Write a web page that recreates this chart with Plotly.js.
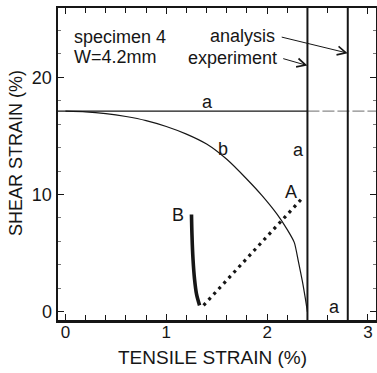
<!DOCTYPE html>
<html>
<head>
<meta charset="utf-8">
<script src="https://cdn.plot.ly/plotly-3.0.1.min.js"></script>
<style>
  html, body { margin: 0; padding: 0; background: #fff; }
  #chart { width: 377px; height: 373px; }
</style>
</head>
<body>
<div id="chart"></div>
<script>
// Constant shear-strain limit "a" (horizontal) and tensile limits (vertical)
const limitShear = 17.1;
const limitTensileExperiment = 2.40;
const limitTensileAnalysis = 2.80;

// Limit curve "b"
const curveBX = [0, 0.2, 0.4, 0.6, 0.8, 1.0, 1.2, 1.4, 1.6, 1.8, 1.95, 2.1, 2.2, 2.27, 2.31, 2.35, 2.38, 2.40];
const curveBY = [17.1, 17.05, 16.9, 16.65, 16.3, 15.8, 15.15, 14.3, 13.0, 11.3, 9.9, 8.3, 7.0, 5.9, 4.3, 2.6, 1.1, 0];

// Loading path A (dotted) and path B (thick)
const pathAX = [1.37, 2.34];
const pathAY = [0.55, 9.6];
const pathBX = [1.25, 1.255, 1.265, 1.28, 1.30, 1.33];
const pathBY = [8.3, 6.5, 4.5, 2.8, 1.5, 0.55];

// Axis ticks
const xTickVals = [0, 1, 2, 3];
const xTickText = ['0', '1', '2', '3'];
const yTickVals = [0, 10, 20];
const yTickText = ['0', '10', '20'];

const ink = '#161616';
const fontFamily = '"Liberation Sans", Arial, Helvetica, sans-serif';

const traces = [
  { x: [-0.2, limitTensileExperiment], y: [limitShear, limitShear], mode: 'lines',
    line: { color: ink, width: 1.3 }, hoverinfo: 'skip' },
  { x: [limitTensileExperiment, 3.2], y: [limitShear, limitShear], mode: 'lines',
    line: { color: '#8a8a8a', width: 1.3, dash: '12px,3px' }, hoverinfo: 'skip' },
  { x: [limitTensileExperiment, limitTensileExperiment], y: [-2, 30], mode: 'lines',
    line: { color: ink, width: 2 }, hoverinfo: 'skip' },
  { x: [limitTensileAnalysis, limitTensileAnalysis], y: [-2, 30], mode: 'lines',
    line: { color: ink, width: 2 }, hoverinfo: 'skip' },
  { x: curveBX, y: curveBY, mode: 'lines', line: { color: ink, width: 1.2, shape: 'spline', smoothing: 0.6 }, hoverinfo: 'skip' },
  { x: pathAX, y: pathAY, mode: 'lines', line: { color: ink, width: 3.2, dash: '3px,4.4px' }, hoverinfo: 'skip' },
  { x: pathBX, y: pathBY, mode: 'lines', line: { color: ink, width: 3.6, shape: 'spline' }, hoverinfo: 'skip' }
];

const txt = (text, x, y, extra) => Object.assign({
  text: text, x: x, y: y, xref: 'x', yref: 'y', showarrow: false,
  font: { family: fontFamily, size: 18, color: ink }, xanchor: 'center', yanchor: 'middle'
}, extra || {});

const arrow = (x, y, ax, ay) => ({
  text: '', x: x, y: y, ax: ax, ay: ay, xref: 'x', yref: 'y', axref: 'x', ayref: 'y',
  showarrow: true, arrowhead: 5, arrowsize: 1.7, arrowwidth: 1, arrowcolor: ink,
  standoff: 0, startstandoff: 0
});

const annotations = [
  txt('a', 1.41, 17.9),
  txt('b', 1.56, 13.9),
  txt('a', 2.31, 13.8),
  txt('A', 2.24, 10.2),
  txt('B', 1.12, 8.25),
  txt('a', 2.67, 0.45),
  txt('specimen 4', 0.06, 23.4, { xanchor: 'left' }),
  txt('W=4.2mm', 0.06, 21.7, { xanchor: 'left' }),
  txt('analysis', 2.10, 23.5, { xanchor: 'right' }),
  txt('experiment', 2.12, 21.6, { xanchor: 'right' }),
  arrow(limitTensileAnalysis, 22.05, 2.13, 23.45),
  arrow(limitTensileExperiment, 20.99, 2.145, 21.62),
  // axis titles
  { text: 'TENSILE STRAIN (%)', xref: 'paper', yref: 'paper', x: (212.5 - 58) / 318, y: (320 - 357) / 312,
    showarrow: false, xanchor: 'center', yanchor: 'middle',
    font: { family: fontFamily, size: 19, color: ink } },
  { text: 'SHEAR STRAIN (%)', xref: 'paper', yref: 'paper', x: (16.7 - 58) / 318, y: (320 - 153.3) / 312,
    showarrow: false, xanchor: 'center', yanchor: 'middle', textangle: -90,
    font: { family: fontFamily, size: 18, color: ink } }
];

const axisCommon = {
  showgrid: false, zeroline: false, showline: true, linecolor: ink, linewidth: 2.5,
  mirror: 'ticks', ticks: 'inside', ticklen: 6, tickwidth: 1, tickcolor: ink,
  tickfont: { family: fontFamily, size: 18, color: ink }, fixedrange: true
};

const layout = {
  width: 377, height: 373,
  margin: { l: 58, r: 1, t: 8, b: 53, pad: 0 },
  paper_bgcolor: '#fff', plot_bgcolor: '#fff',
  showlegend: false,
  xaxis: Object.assign({}, axisCommon, {
    range: [-0.074, 3.08], tickmode: 'array', tickvals: xTickVals, ticktext: xTickText,
    ticklabelstandoff: -5,
    tickfont: { family: fontFamily, size: 17, color: ink },
    minor: { dtick: 0.2, tick0: 0, ticks: 'inside', ticklen: 5, tickwidth: 1, tickcolor: ink, showgrid: false }
  }),
  yaxis: Object.assign({}, axisCommon, {
    range: [-0.7, 25.9], tickmode: 'array', tickvals: yTickVals, ticktext: yTickText,
    ticklabelstandoff: 0,
    minor: { dtick: 2, tick0: 0, ticks: 'inside', ticklen: 3, tickwidth: 1, tickcolor: '#777', showgrid: false }
  }),
  annotations: annotations
};

Plotly.newPlot('chart', traces, layout, { staticPlot: true, displayModeBar: false });
</script>
</body>
</html>
